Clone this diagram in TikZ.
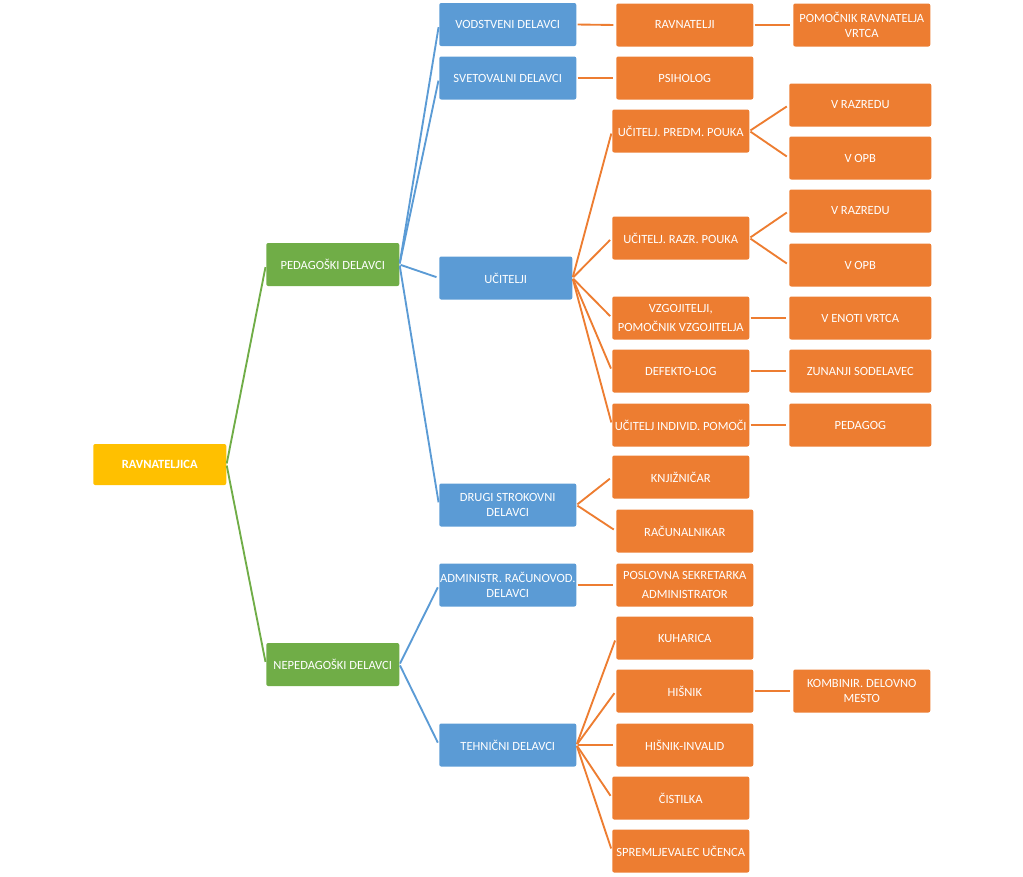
\documentclass[tikz,border=0pt]{standalone}
\usepackage{fontspec}
\setmainfont{Carlito}
\usepackage{tikz}
\definecolor{rootc}{HTML}{FFC000}
\definecolor{grnc}{HTML}{70AD47}
\definecolor{bluc}{HTML}{5B9BD5}
\definecolor{orac}{HTML}{ED7D31}
\tikzset{
  box/.style={rounded corners=1.5pt, anchor=west, text=white, inner sep=0pt, align=center,
    minimum width=102.75pt, minimum height=32.25pt, font=\fontsize{9.4}{11.2}\selectfont},
  wide/.style={minimum width=106.5pt},
  narrow/.style={minimum width=99.75pt},
  rootbox/.style={box, fill=rootc, narrow, minimum height=30.75pt, font=\fontsize{9.4}{11.2}\selectfont\bfseries},
  grnbox/.style={box, fill=grnc, narrow},
  blubox/.style={box, fill=bluc},
  orabox/.style={box, fill=orac},
  link/.style={line width=1.4pt, shorten <=0.8pt, shorten >=2pt}
}
\begin{document}
\begin{tikzpicture}[x=0.75pt, y=-0.75pt]
    \useasboundingbox (0,0) rectangle (1023,876);
    \node[rootbox] (ravn) at (93,464.5) {RAVNATELJICA};
    \node[grnbox] (ped) at (266,264.5) {PEDAGOŠKI DELAVCI};
    \node[grnbox] (neped) at (266,664.5) {NEPEDAGOŠKI DELAVCI};
    \node[blubox] (vod) at (439,24.5) {VODSTVENI DELAVCI};
    \node[blubox] (svet) at (439,78) {SVETOVALNI DELAVCI};
    \node[blubox, narrow] (uci) at (439,278) {UČITELJI};
    \node[blubox] (drugi) at (439,505) {DRUGI STROKOVNI\\DELAVCI};
    \node[blubox] (admin) at (439,585) {ADMINISTR. RAČUNOVOD.\\DELAVCI};
    \node[blubox] (teh) at (439,745) {TEHNIČNI DELAVCI};
    \node[orabox] (ravnl) at (616,25) {RAVNATELJI};
    \node[orabox] (psih) at (616,78) {PSIHOLOG};
    \node[orabox] (predm) at (612,131) {UČITELJ. PREDM. POUKA};
    \node[orabox] (razr) at (612,238) {UČITELJ. RAZR. POUKA};
    \node[orabox] (vzg) at (612,318) {VZGOJITELJI,\\[3pt]POMOČNIK VZGOJITELJA};
    \node[orabox] (defl) at (612,371) {DEFEKTO-LOG};
    \node[orabox] (ind) at (612,425) {UČITELJ INDIVID. POMOČI};
    \node[orabox] (knj) at (612,477) {KNJIŽNIČAR};
    \node[orabox] (rac) at (616,531) {RAČUNALNIKAR};
    \node[orabox] (posl) at (616,585) {POSLOVNA SEKRETARKA\\[3pt]ADMINISTRATOR};
    \node[orabox] (kuh) at (616,638) {KUHARICA};
    \node[orabox] (his) at (616,691) {HIŠNIK};
    \node[orabox] (hisi) at (616,745) {HIŠNIK-INVALID};
    \node[orabox] (cist) at (612,798) {ČISTILKA};
    \node[orabox] (sprem) at (612,851) {SPREMLJEVALEC UČENCA};
    \node[orabox] (pom) at (793,25) {POMOČNIK RAVNATELJA\\VRTCA};
    \node[orabox, wide] (raz1) at (789,105) {V RAZREDU};
    \node[orabox, wide] (opb1) at (789,158) {V OPB};
    \node[orabox, wide] (raz2) at (789,211) {V RAZREDU};
    \node[orabox, wide] (opb2) at (789,265) {V OPB};
    \node[orabox, wide] (eno) at (789,318) {V ENOTI VRTCA};
    \node[orabox, wide] (zun) at (789,371) {ZUNANJI SODELAVEC};
    \node[orabox, wide] (pedg) at (789,425) {PEDAGOG};
    \node[orabox] (komb) at (793,691) {KOMBINIR. DELOVNO\\MESTO};
    \foreach \a/\b in {ravn/ped, ravn/neped}
        \draw[link, grnc] (\a.east) -- (\b.west);
    \foreach \a/\b in {ped/vod, ped/svet, ped/uci, ped/drugi, neped/admin, neped/teh}
        \draw[link, bluc] (\a.east) -- (\b.west);
    \foreach \a/\b in {vod/ravnl, svet/psih, uci/predm, uci/razr, uci/vzg, uci/defl, uci/ind,
        drugi/knj, drugi/rac, admin/posl, teh/kuh, teh/his, teh/hisi, teh/cist, teh/sprem,
        ravnl/pom, predm/raz1, predm/opb1, razr/raz2, razr/opb2, vzg/eno, defl/zun, ind/pedg, his/komb}
        \draw[link, orac] (\a.east) -- (\b.west);
\end{tikzpicture}
\end{document}
